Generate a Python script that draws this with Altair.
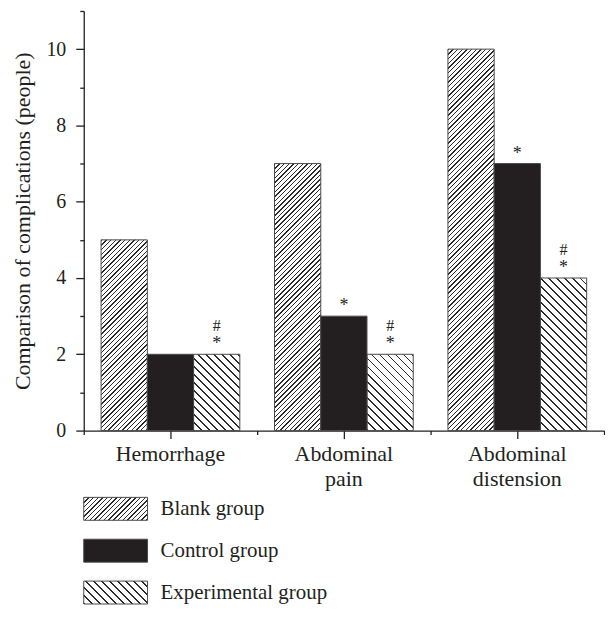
import altair as alt
import pandas as pd

categories = ["Hemorrhage", "Abdominal pain", "Abdominal distension"]
groups = ["Blank group", "Control group", "Experimental group"]
blank_values = [5, 7, 10]
control_values = [2, 3, 7]
experimental_values = [2, 2, 4]
# "*" : vs blank group, "#" : vs control group
control_star = ["", "*", "*"]
experimental_star = ["*", "*", "*"]
experimental_hash = ["#", "#", "#"]
y_ticks_major = [0, 2, 4, 6, 8, 10]
y_ticks_minor = [1, 3, 5, 7, 9, 11]

rows = []
for i, c in enumerate(categories):
    rows.append({"category": c, "group": groups[0], "value": blank_values[i], "star": "", "hash": ""})
    rows.append({"category": c, "group": groups[1], "value": control_values[i], "star": control_star[i], "hash": ""})
    rows.append({"category": c, "group": groups[2], "value": experimental_values[i], "star": experimental_star[i], "hash": experimental_hash[i]})
df = pd.DataFrame(rows)

# ---- styling ----
FONT = "Liberation Serif"
INK = "#231f20"
PLOT_W, PLOT_H, Y_MAX = 522, 421, 11
OUTER = 0.375
BAR_W = PLOT_W / 3 / (3 + 2 * OUTER)


def hatch(w, h, period, lw, direction, ink="#2b2b2b", paper="#ffffff"):
    L = w + h
    c = L / (w * w + h * h)
    a, b = w * c, h * c
    if direction == "/":
        x1, y1, x2, y2 = 0, 0, a, b
    else:
        x1, y1, x2, y2 = 0, 1, a, 1 - b
    stops = []
    i = 0
    while i * period < L:
        s0 = i * period
        s1 = min(s0 + lw, L)
        s2 = min(s0 + period, L)
        stops += [(s0, ink), (s1, ink), (s1, paper), (s2, paper)]
        i += 1
    return {
        "gradient": "linear",
        "x1": x1, "y1": y1, "x2": x2, "y2": y2,
        "stops": [{"offset": round(o / L, 5), "color": col} for o, col in stops],
    }


x_scale = alt.Scale(domain=categories, paddingInner=0, paddingOuter=0)
x_enc = alt.X("category:N", scale=x_scale, axis=None)
xo_enc = alt.XOffset("group:N", scale=alt.Scale(domain=groups, paddingInner=0, paddingOuter=OUTER))
y_scale = alt.Scale(domain=[0, Y_MAX], nice=False)
y_enc = alt.Y("value:Q", scale=y_scale, axis=None)

base = alt.Chart(df)
layers = []
pattern = {groups[0]: (4.7, 1.4, "/"), groups[2]: (8.0, 1.8, "\\")}
vals = {groups[0]: blank_values, groups[2]: experimental_values}
for g in (groups[0], groups[2]):
    per, lw, d = pattern[g]
    for i, c in enumerate(categories):
        h = vals[g][i] / Y_MAX * PLOT_H
        layers.append(
            base.transform_filter((alt.datum.group == g) & (alt.datum.category == c))
            .mark_bar(fill=hatch(BAR_W, h, per, lw, d), stroke="#4a4a4a", strokeWidth=1)
            .encode(x=x_enc, xOffset=xo_enc, y=y_enc)
        )

control = (
    base.transform_filter(alt.datum.group == groups[1])
    .mark_bar(fill=INK, stroke="#4a4a4a", strokeWidth=1)
    .encode(
        x=alt.X("category:N", scale=x_scale,
                axis=alt.Axis(title=None, orient="bottom", tickSize=8, labelAngle=0,
                              labelExpr="split(datum.label, ' ')", labelLineHeight=25,
                              labelPadding=5, labelFontSize=22)),
        xOffset=xo_enc,
        y=alt.Y("value:Q", scale=y_scale,
                axis=alt.Axis(values=y_ticks_major, orient="left", tickSize=8, labelPadding=10,
                              title="Comparison of complications (people)", titlePadding=11,
                              titleFontSize=22)),
    )
)
layers.append(control)

stars = (
    base.transform_filter(alt.datum.star != "")
    .mark_text(font=FONT, fontSize=18, color=INK, baseline="alphabetic", dy=-5)
    .encode(
        x=alt.X("category:N", scale=x_scale,
                axis=alt.Axis(title=None, orient="bottom", tickBand="extent", tickSize=4,
                              labels=False, domain=False)),
        xOffset=xo_enc,
        y=alt.Y("value:Q", scale=y_scale,
                axis=alt.Axis(values=y_ticks_minor, orient="left", tickSize=4, labels=False,
                              domain=False, title=None)),
        text="star:N",
    )
)
hashes = (
    base.transform_filter(alt.datum.hash != "")
    .mark_text(font=FONT, fontSize=16, color=INK, baseline="alphabetic", dy=-23)
    .encode(x=x_enc, xOffset=xo_enc, y=y_enc, text="hash:N")
)
layers += [stars, hashes]

main = alt.layer(*layers).resolve_axis(x="independent", y="independent").properties(
    width=PLOT_W, height=PLOT_H
)

# ---- legend panel ----
leg_df = pd.DataFrame({"group": groups})
leg_y = alt.Y("group:N", axis=None, scale=alt.Scale(domain=groups, paddingInner=19 / 42, paddingOuter=0))
leg_fill = {
    groups[0]: hatch(64, 23, 4.7, 1.4, "/"),
    groups[1]: INK,
    groups[2]: hatch(64, 23, 8.0, 1.8, "\\"),
}
leg_layers = []
for g in groups:
    leg_layers.append(
        alt.Chart(leg_df).transform_filter(alt.datum.group == g)
        .mark_rect(fill=leg_fill[g], stroke="#4a4a4a", strokeWidth=1)
        .encode(y=leg_y, x=alt.value(0), x2=alt.value(64))
    )
leg_layers.append(
    alt.Chart(leg_df).mark_text(font=FONT, fontSize=21, color=INK, align="left", baseline="middle")
    .encode(y=leg_y, x=alt.value(77), text="group:N")
)
legend = alt.layer(*leg_layers).properties(width=300, height=107)

chart = (
    alt.vconcat(main, legend, spacing=67, bounds="flush")
    .properties(padding={"left": 4, "top": 1, "right": 0, "bottom": 0}, background="white")
    .configure_view(stroke=None)
    .configure_axis(
        labelFont=FONT, titleFont=FONT, labelFontSize=20, titleFontSize=20,
        titleFontWeight="normal", labelColor=INK, titleColor=INK,
        domainColor=INK, tickColor=INK, domainWidth=1.3, tickWidth=1.3, grid=False,
    )
)
chart.save("out.html", embed_options={"renderer": "svg", "actions": False})
